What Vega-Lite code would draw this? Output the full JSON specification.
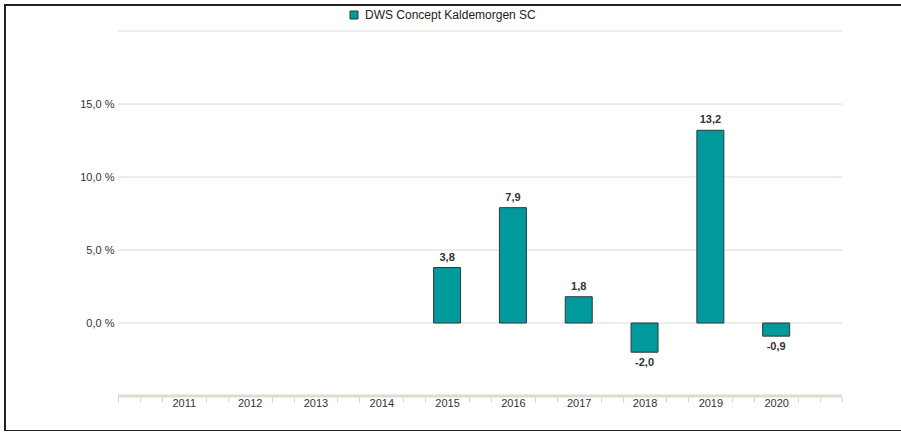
{
  "$schema": "https://vega.github.io/schema/vega-lite/v6.json",
  "autosize": {"type": "none"},
  "padding": {"left": 5, "top": 5, "right": 0, "bottom": 0},
  "width": 898,
  "height": 426,
  "background": "white",
  "config": {
    "locale": {"number": {"decimal": ",", "thousands": ".", "grouping": [3], "currency": ["", " €"], "minus": "-"}},
    "font": "Liberation Sans",
    "view": {"stroke": "#222222", "strokeWidth": 2}
  },
  "data": {
    "values": [
      {"year": 2015, "value": 3.8, "series": "DWS Concept Kaldemorgen  SC"},
      {"year": 2016, "value": 7.9, "series": "DWS Concept Kaldemorgen  SC"},
      {"year": 2017, "value": 1.8, "series": "DWS Concept Kaldemorgen  SC"},
      {"year": 2018, "value": -2.0, "series": "DWS Concept Kaldemorgen  SC"},
      {"year": 2019, "value": 13.2, "series": "DWS Concept Kaldemorgen  SC"},
      {"year": 2020, "value": -0.9, "series": "DWS Concept Kaldemorgen  SC"}
    ]
  },
  "layer": [
    {
      "data": {"values": [{"g": -5}, {"g": 0}, {"g": 5}, {"g": 10}, {"g": 15}, {"g": 20}]},
      "mark": {"type": "rule"},
      "encoding": {
        "y": {
          "field": "g", "type": "quantitative",
          "scale": {"domain": [-7.397, 21.781], "nice": false, "zero": false, "padding": 0},
          "axis": {
            "orient": "left", "offset": -113, "domain": false, "ticks": false, "grid": false,
            "values": [0, 5, 10, 15], "format": ".1f", "labelExpr": "datum.label + ' %'",
            "labelPadding": 4, "labelFontSize": 11, "labelColor": "#333333", "title": null
          }
        },
        "x": {
          "datum": 2010, "type": "quantitative",
          "scale": {"domain": [2008.2831, 2021.9268], "nice": false, "zero": false, "padding": 0},
          "axis": {
            "orient": "bottom", "offset": -34, "domain": false, "grid": false,
            "values": [2010, 2010.3333, 2010.6667, 2011, 2011.3333, 2011.6667, 2012, 2012.3333, 2012.6667, 2013, 2013.3333, 2013.6667, 2014, 2014.3333, 2014.6667, 2015, 2015.3333, 2015.6667, 2016, 2016.3333, 2016.6667, 2017, 2017.3333, 2017.6667, 2018, 2018.3333, 2018.6667, 2019, 2019.3333, 2019.6667, 2020, 2020.3333, 2020.6667, 2021],
            "tickSize": 5, "tickWidth": 1, "tickColor": "#d9d4ca",
            "tickOpacity": {"condition": {"test": "datum.value > 2010.5 && datum.value < 2020.5 && abs(datum.value - round(datum.value)) < 0.01", "value": 0}, "value": 1},
            "labelExpr": "datum.value > 2010.5 && datum.value < 2020.5 && abs(datum.value - round(datum.value)) < 0.01 ? format(round(datum.value), 'd') : ''",
            "labelPadding": -5, "labelFontSize": 11, "labelColor": "#333333",
            "labelOverlap": false, "labelFlush": false, "labelBound": false, "title": null
          }
        },
        "x2": {"datum": 2021},
        "color": {"condition": {"test": "datum.g == -5", "value": "#e0dbd1"}, "value": "#dddad4"},
        "strokeWidth": {"condition": {"test": "datum.g == -5", "value": 3}, "value": 1}
      }
    },
    {
      "mark": {"type": "bar", "size": 27, "stroke": "#2b3a3a", "strokeWidth": 1},
      "encoding": {
        "x": {
          "field": "year", "type": "quantitative",
          "scale": {"domain": [2008.2831, 2021.9268], "nice": false, "zero": false, "padding": 0},
          "axis": {
            "orient": "bottom", "offset": -34, "domain": false, "grid": false,
            "values": [2010, 2010.3333, 2010.6667, 2011, 2011.3333, 2011.6667, 2012, 2012.3333, 2012.6667, 2013, 2013.3333, 2013.6667, 2014, 2014.3333, 2014.6667, 2015, 2015.3333, 2015.6667, 2016, 2016.3333, 2016.6667, 2017, 2017.3333, 2017.6667, 2018, 2018.3333, 2018.6667, 2019, 2019.3333, 2019.6667, 2020, 2020.3333, 2020.6667, 2021],
            "tickSize": 5, "tickWidth": 1, "tickColor": "#d9d4ca",
            "tickOpacity": {"condition": {"test": "datum.value > 2010.5 && datum.value < 2020.5 && abs(datum.value - round(datum.value)) < 0.01", "value": 0}, "value": 1},
            "labelExpr": "datum.value > 2010.5 && datum.value < 2020.5 && abs(datum.value - round(datum.value)) < 0.01 ? format(round(datum.value), 'd') : ''",
            "labelPadding": -5, "labelFontSize": 11, "labelColor": "#333333",
            "labelOverlap": false, "labelFlush": false, "labelBound": false, "title": null
          }
        },
        "y": {
          "field": "value", "type": "quantitative",
          "scale": {"domain": [-7.397, 21.781], "nice": false, "zero": false, "padding": 0},
          "axis": {
            "orient": "left", "offset": -113, "domain": false, "ticks": false, "grid": false,
            "values": [0, 5, 10, 15], "format": ".1f", "labelExpr": "datum.label + ' %'",
            "labelPadding": 4, "labelFontSize": 11, "labelColor": "#333333", "title": null
          }
        },
        "y2": {"datum": 0},
        "color": {
          "field": "series", "type": "nominal",
          "scale": {"domain": ["DWS Concept Kaldemorgen  SC"], "range": ["#009a9c"]},
          "legend": {
            "orient": "none", "legendX": 343, "legendY": 4, "title": null,
            "symbolType": "square", "symbolSize": 64, "symbolStrokeColor": "#2b3a3a", "symbolStrokeWidth": 1,
            "labelFontSize": 12, "labelColor": "#222222", "labelOffset": 5, "labelLimit": 400, "padding": 0
          }
        }
      }
    },
    {
      "transform": [{"filter": "datum.value >= 0"}],
      "mark": {"type": "text", "baseline": "bottom", "dy": -5, "fontSize": 11, "fontWeight": "bold", "color": "#333333"},
      "encoding": {
        "x": {
          "field": "year", "type": "quantitative",
          "scale": {"domain": [2008.2831, 2021.9268], "nice": false, "zero": false, "padding": 0},
          "axis": {
            "orient": "bottom", "offset": -34, "domain": false, "grid": false,
            "values": [2010, 2010.3333, 2010.6667, 2011, 2011.3333, 2011.6667, 2012, 2012.3333, 2012.6667, 2013, 2013.3333, 2013.6667, 2014, 2014.3333, 2014.6667, 2015, 2015.3333, 2015.6667, 2016, 2016.3333, 2016.6667, 2017, 2017.3333, 2017.6667, 2018, 2018.3333, 2018.6667, 2019, 2019.3333, 2019.6667, 2020, 2020.3333, 2020.6667, 2021],
            "tickSize": 5, "tickWidth": 1, "tickColor": "#d9d4ca",
            "tickOpacity": {"condition": {"test": "datum.value > 2010.5 && datum.value < 2020.5 && abs(datum.value - round(datum.value)) < 0.01", "value": 0}, "value": 1},
            "labelExpr": "datum.value > 2010.5 && datum.value < 2020.5 && abs(datum.value - round(datum.value)) < 0.01 ? format(round(datum.value), 'd') : ''",
            "labelPadding": -5, "labelFontSize": 11, "labelColor": "#333333",
            "labelOverlap": false, "labelFlush": false, "labelBound": false, "title": null
          }
        },
        "y": {
          "field": "value", "type": "quantitative",
          "scale": {"domain": [-7.397, 21.781], "nice": false, "zero": false, "padding": 0},
          "axis": {
            "orient": "left", "offset": -113, "domain": false, "ticks": false, "grid": false,
            "values": [0, 5, 10, 15], "format": ".1f", "labelExpr": "datum.label + ' %'",
            "labelPadding": 4, "labelFontSize": 11, "labelColor": "#333333", "title": null
          }
        },
        "text": {"field": "value", "type": "quantitative", "format": ".1f"}
      }
    },
    {
      "transform": [{"filter": "datum.value < 0"}],
      "mark": {"type": "text", "baseline": "top", "dy": 5, "fontSize": 11, "fontWeight": "bold", "color": "#333333"},
      "encoding": {
        "x": {
          "field": "year", "type": "quantitative",
          "scale": {"domain": [2008.2831, 2021.9268], "nice": false, "zero": false, "padding": 0},
          "axis": {
            "orient": "bottom", "offset": -34, "domain": false, "grid": false,
            "values": [2010, 2010.3333, 2010.6667, 2011, 2011.3333, 2011.6667, 2012, 2012.3333, 2012.6667, 2013, 2013.3333, 2013.6667, 2014, 2014.3333, 2014.6667, 2015, 2015.3333, 2015.6667, 2016, 2016.3333, 2016.6667, 2017, 2017.3333, 2017.6667, 2018, 2018.3333, 2018.6667, 2019, 2019.3333, 2019.6667, 2020, 2020.3333, 2020.6667, 2021],
            "tickSize": 5, "tickWidth": 1, "tickColor": "#d9d4ca",
            "tickOpacity": {"condition": {"test": "datum.value > 2010.5 && datum.value < 2020.5 && abs(datum.value - round(datum.value)) < 0.01", "value": 0}, "value": 1},
            "labelExpr": "datum.value > 2010.5 && datum.value < 2020.5 && abs(datum.value - round(datum.value)) < 0.01 ? format(round(datum.value), 'd') : ''",
            "labelPadding": -5, "labelFontSize": 11, "labelColor": "#333333",
            "labelOverlap": false, "labelFlush": false, "labelBound": false, "title": null
          }
        },
        "y": {
          "field": "value", "type": "quantitative",
          "scale": {"domain": [-7.397, 21.781], "nice": false, "zero": false, "padding": 0},
          "axis": {
            "orient": "left", "offset": -113, "domain": false, "ticks": false, "grid": false,
            "values": [0, 5, 10, 15], "format": ".1f", "labelExpr": "datum.label + ' %'",
            "labelPadding": 4, "labelFontSize": 11, "labelColor": "#333333", "title": null
          }
        },
        "text": {"field": "value", "type": "quantitative", "format": ".1f"}
      }
    }
  ]
}
